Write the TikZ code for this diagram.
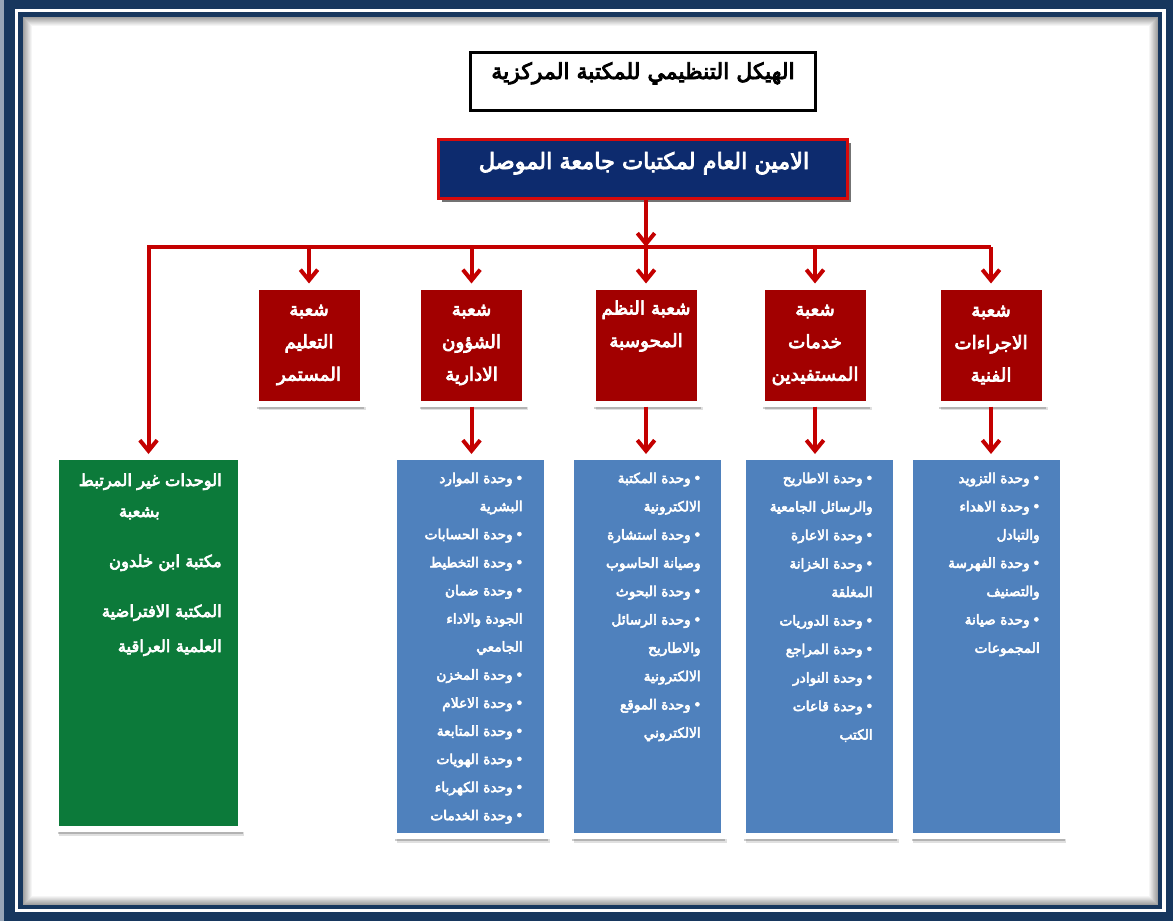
\documentclass[tikz,border=0pt]{standalone}
\usepackage{fontspec}
\usetikzlibrary{arrows.meta,shadows}
\TeXXeTstate=1
\newfontfamily\arabicfont[Script=Arabic,FakeBold=4]{DejaVu Sans}
\definecolor{framenavy}{RGB}{23,55,94}
\definecolor{mainnavy}{RGB}{13,43,110}
\definecolor{boxred}{RGB}{162,0,0}
\definecolor{linered}{RGB}{196,0,0}
\definecolor{borderred}{RGB}{215,10,10}
\definecolor{boxblue}{RGB}{79,129,189}
\definecolor{boxgreen}{RGB}{12,122,58}
\newcommand\AR[1]{\beginR #1\endR}
\newcommand\BL[1]{\beginR #1\endR\hspace{2.5pt}\makebox[5pt][c]{•}}
\newcommand\CL[1]{\beginR #1\endR\hspace{9.75pt}}
\begin{document}
\begin{tikzpicture}[x=0.75pt,y=-0.75pt,
  card/.style={draw=white, line width=4.5pt, inner sep=0pt,
    drop shadow={shadow xshift=2.5pt, shadow yshift=-5pt, opacity=0.12, fill=black},
    drop shadow={shadow xshift=1.2pt, shadow yshift=-3.8pt, opacity=0.2, fill=black}},
  redbox/.style={card, fill=boxred, minimum width=80.25pt, minimum height=87.75pt,
    text=white, align=center, font=\arabicfont\fontsize{13.8}{24.4}\selectfont},
  bluebox/.style={card, fill=boxblue, minimum width=114.75pt, minimum height=284.25pt},
  greenbox/.style={card, fill=boxgreen, minimum width=138.75pt, minimum height=279pt},
  item/.style={anchor=base east, inner sep=0pt, text=white, font=\arabicfont\fontsize{10.3}{12}\selectfont},
  gitem/.style={anchor=base east, inner sep=0pt, text=white, font=\arabicfont\fontsize{12.3}{14}\selectfont},
  conn/.style={draw=linered, line width=3pt},
  arr/.style={conn, -{Straight Barb[length=8pt,width=13pt]}}
]
\useasboundingbox (0,0) rectangle (1173,921);
% frame
\fill[framenavy] (0,0) rectangle (1173,921);
\fill[framenavy!45] (0,0) rectangle (4,921);
\fill[white] (15,9) rectangle (1166,912);
\fill[framenavy] (18,12) rectangle (1162,909);
\fill[white] (23,17) rectangle (1158,905);
\foreach \k in {1,...,9}{
  \pgfmathtruncatemacro\p{42*(10-\k)/10}
  \draw[line width=0.8pt, draw=black!\p!white] ({23+\k-0.5},{17+\k-0.5}) rectangle ({1158-\k+0.5},{905-\k+0.5});
}
% title
\node[draw=black, line width=2.25pt, minimum width=258.75pt, minimum height=43.5pt, inner sep=0pt] (title) at (643,81.5) {};
\node[anchor=base, inner sep=0pt, font=\arabicfont\fontsize{16.5}{18}\selectfont] (titletext) at (643,79) {\AR{الهيكل التنظيمي للمكتبة المركزية}};
% main
\node[fill=mainnavy, draw=borderred, line width=2.25pt, minimum width=306.75pt, minimum height=44.25pt, inner sep=0pt,
  drop shadow={shadow xshift=2.5pt, shadow yshift=-2.5pt, opacity=0.55, fill=black}] (main) at (643,169) {};
\node[anchor=base, inner sep=0pt, text=white, font=\arabicfont\fontsize{16.8}{19}\selectfont] (maintext) at (644,169) {\AR{الامين العام لمكتبات جامعة الموصل}};
% red boxes
\node[redbox] (r1) at (309,345) {\AR{شعبة}\\\AR{التعليم}\\\AR{المستمر}};
\node[redbox] (r2) at (471.5,345) {\AR{شعبة}\\\AR{الشؤون}\\\AR{الادارية}};
\node[redbox] (r3) at (646,345) {\AR{شعبة النظم}\\\AR{المحوسبة}\\\strut};
\node[redbox] (r4) at (815,345) {\AR{شعبة}\\\AR{خدمات}\\\AR{المستفيدين}};
\node[redbox] (r5) at (991,345) {\AR{شعبة}\\\AR{الاجراءات}\\\AR{الفنية}};
% blue and green boxes
\node[greenbox] (g) at (148.5,643) {};
\node[bluebox] (b2) at (470,646.5) {};
\node[bluebox] (b3) at (647,646.5) {};
\node[bluebox] (b4) at (819,646.5) {};
\node[bluebox] (b5) at (986.5,646.5) {};
% connectors
\coordinate (busL) at (148.5,247);
\coordinate (busR) at (991,247);
\draw[arr] (r3.north |- main.south) -- (r3.north |- busL);
\draw[arr] (busR) -- (busL) -- (g.north);
\foreach \r in {r1,r2,r3,r4,r5}{
  \draw[arr] (\r.north |- busL) -- (\r.north);
}
\foreach \r/\b in {r2/b2,r3/b3,r4/b4,r5/b5}{
  \draw[arr] (\r.south) -- (\r.south |- \b.north);
}
% green texts
\node[gitem] (g1) at (222,486) {\AR{الوحدات غير المرتبط}};
\node[gitem] (g2) at (160,517) {\AR{بشعبة}};
\node[gitem] (g3) at (222,567) {\AR{مكتبة ابن خلدون}};
\node[gitem] (g4) at (222,617) {\AR{المكتبة الافتراضية}};
\node[gitem] (g5) at (222,652) {\AR{العلمية العراقية}};
% lists
\foreach \t [count=\i] in {{\BL{وحدة الموارد}},{\CL{البشرية}},{\BL{وحدة الحسابات}},{\BL{وحدة التخطيط}},{\BL{وحدة ضمان}},{\CL{الجودة والاداء}},{\CL{الجامعي}},{\BL{وحدة المخزن}},{\BL{وحدة الاعلام}},{\BL{وحدة المتابعة}},{\BL{وحدة الهويات}},{\BL{وحدة الكهرباء}},{\BL{وحدة الخدمات}}}{
  \node[item] (adm\i) at ({523},{483+(\i-1)*28.1}) {\t};
}
\foreach \t [count=\i] in {{\BL{وحدة المكتبة}},{\CL{الالكترونية}},{\BL{وحدة استشارة}},{\CL{وصيانة الحاسوب}},{\BL{وحدة البحوث}},{\BL{وحدة الرسائل}},{\CL{والاطاريح}},{\CL{الالكترونية}},{\BL{وحدة الموقع}},{\CL{الالكتروني}}}{
  \node[item] (sys\i) at ({701},{483+(\i-1)*28.3}) {\t};
}
\foreach \t [count=\i] in {{\BL{وحدة الاطاريح}},{\CL{والرسائل الجامعية}},{\BL{وحدة الاعارة}},{\BL{وحدة الخزانة}},{\CL{المغلقة}},{\BL{وحدة الدوريات}},{\BL{وحدة المراجع}},{\BL{وحدة النوادر}},{\BL{وحدة قاعات}},{\CL{الكتب}}}{
  \node[item] (srv\i) at ({873},{483+(\i-1)*28.5}) {\t};
}
\foreach \t [count=\i] in {{\BL{وحدة التزويد}},{\BL{وحدة الاهداء}},{\CL{والتبادل}},{\BL{وحدة الفهرسة}},{\CL{والتصنيف}},{\BL{وحدة صيانة}},{\CL{المجموعات}}}{
  \node[item] (tec\i) at ({1040},{483+(\i-1)*28.3}) {\t};
}
\end{tikzpicture}
\end{document}
